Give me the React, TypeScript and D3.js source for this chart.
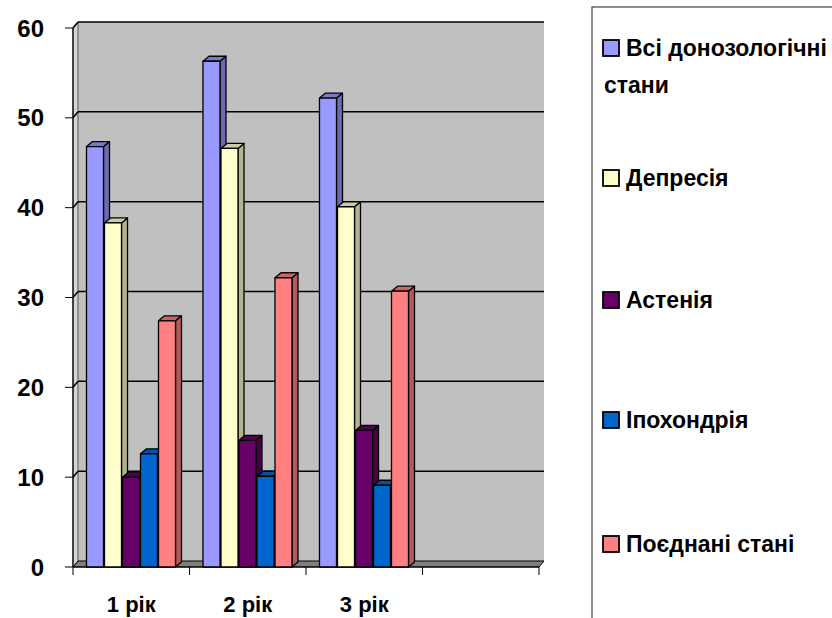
import React from "react";
import * as d3 from "d3";

const categories = ["1 рік", "2 рік", "3 рік", ""];
const seriesNames = ["Всі донозологічні стани", "Депресія", "Астенія", "Іпохондрія", "Поєднані стані"];
const allStates = [46.8, 56.3, 52.2, null];
const depression = [38.3, 46.6, 40.1, null];
const asthenia = [10.0, 14.1, 15.2, null];
const hypochondria = [12.6, 10.1, 9.1, null];
const combined = [27.4, 32.2, 30.7, null];
const yTicks = [0, 10, 20, 30, 40, 50, 60];

const seriesValues = [allStates, depression, asthenia, hypochondria, combined];
const fronts = ["#9999ff", "#ffffcc", "#660066", "#0066cc", "#ff8080"];
const sides = ["#6b6bb3", "#b3b38f", "#470047", "#00478f", "#b35a5a"];
const tops = ["#7a7acc", "#ccccA3", "#520052", "#0052a3", "#cc6666"];

const legendLines: string[][] = [["Всі донозологічні", "стани"], ["Депресія"], ["Астенія"], ["Іпохондрія"], ["Поєднані стані"]];
const legendY = [48, 178, 300, 420, 544];

export default function App() {
  const font = "'Liberation Sans', Arial, sans-serif";
  const x0 = 73, x1 = 539;
  const y = d3.scaleLinear().domain([0, 60]).range([567, 28]);
  const dx = 5, dy = -6;
  const bdx = 6, bdy = -5;
  const x = d3.scaleBand<string>().domain(categories).range([x0, x1]).padding(0);
  const inner = d3.scaleBand<string>().domain(seriesNames).range([13.5, 103.5]).padding(0);
  const bw = 17;

  return (
    <svg width={832} height={618} style={{ position: "absolute", left: 0, top: 0, background: "#fff" }}>
      <rect x={x0 + dx} y={y(60) + dy} width={x1 - x0} height={y(0) - y(60)} fill="#c0c0c0" />
      <polygon
        points={`${x0},${y(60)} ${x0 + dx},${y(60) + dy} ${x0 + dx},${y(0) + dy} ${x0},${y(0)}`}
        fill="#d4d4d4" stroke="#555" strokeWidth={1}
      />
      {yTicks.filter(t => t > 0).map(t => (
        <g key={t}>
          <line x1={x0 + dx} x2={x1 + dx} y1={y(t) + dy} y2={y(t) + dy} stroke="#000" strokeWidth={1.5} />
          <line x1={x0} x2={x0 + dx} y1={y(t)} y2={y(t) + dy} stroke="#000" strokeWidth={1.5} />
        </g>
      ))}
      <polygon
        points={`${x0},${y(0)} ${x1},${y(0)} ${x1 + dx},${y(0) + dy} ${x0 + dx},${y(0) + dy}`}
        fill="#808080" stroke="#000" strokeWidth={1}
      />
      <line x1={x0} x2={x0} y1={y(60)} y2={y(0)} stroke="#000" strokeWidth={1.2} />
      <line x1={x0} x2={x1} y1={y(0)} y2={y(0)} stroke="#000" strokeWidth={1.2} />
      {yTicks.map(t => (
        <g key={t}>
          <line x1={x0 - 8} x2={x0} y1={y(t)} y2={y(t)} stroke="#000" strokeWidth={1} />
          <text x={44} y={y(t)} dy="0.36em" textAnchor="end" fontFamily={font} fontWeight={700} fontSize={24}>{t}</text>
        </g>
      ))}
      {categories.map(c => (
        <line key={"t" + c} x1={x(c)!} x2={x(c)!} y1={y(0)} y2={y(0) + 8} stroke="#000" strokeWidth={1} />
      ))}
      <line x1={x1} x2={x1} y1={y(0)} y2={y(0) + 8} stroke="#000" strokeWidth={1} />
      {categories.map(c => c && (
        <text key={"l" + c} x={x(c)! + x.bandwidth() / 2} y={612} textAnchor="middle" fontFamily={font} fontWeight={700} fontSize={22}>{c}</text>
      ))}
      {categories.map((c, ci) => (
        <g key={"b" + ci}>
          {seriesNames.map((s, si) => {
            const v = seriesValues[si][ci];
            if (v == null) return null;
            const bx = x(c)! + inner(s)!;
            const top = y(v);
            const bot = y(0);
            return (
              <g key={s} stroke="#000" strokeWidth={1.3} strokeLinejoin="round">
                <polygon points={`${bx + bw},${top} ${bx + bw + bdx},${top + bdy} ${bx + bw + bdx},${bot + bdy} ${bx + bw},${bot}`} fill={sides[si]} />
                <polygon points={`${bx},${top} ${bx + bdx},${top + bdy} ${bx + bw + bdx},${top + bdy} ${bx + bw},${top}`} fill={tops[si]} />
                <rect x={bx} y={top} width={bw} height={bot - top} fill={fronts[si]} />
              </g>
            );
          })}
        </g>
      ))}
      <rect x={592} y={7} width={260} height={700} fill="#fff" stroke="#444" strokeWidth={1.2} />
      {seriesNames.map((s, i) => (
        <g key={"lg" + s}>
          <rect x={603} y={legendY[i] - 8} width={16} height={16} fill={fronts[i]} stroke="#000" strokeWidth={1.8} />
          {legendLines[i].map((ln, li) => (
            <text key={li} x={li === 0 ? 626 : 604} y={legendY[i] + li * 37} dy="0.36em" fontFamily={font} fontWeight={700} fontSize={23}>{ln}</text>
          ))}
        </g>
      ))}
    </svg>
  );
}
